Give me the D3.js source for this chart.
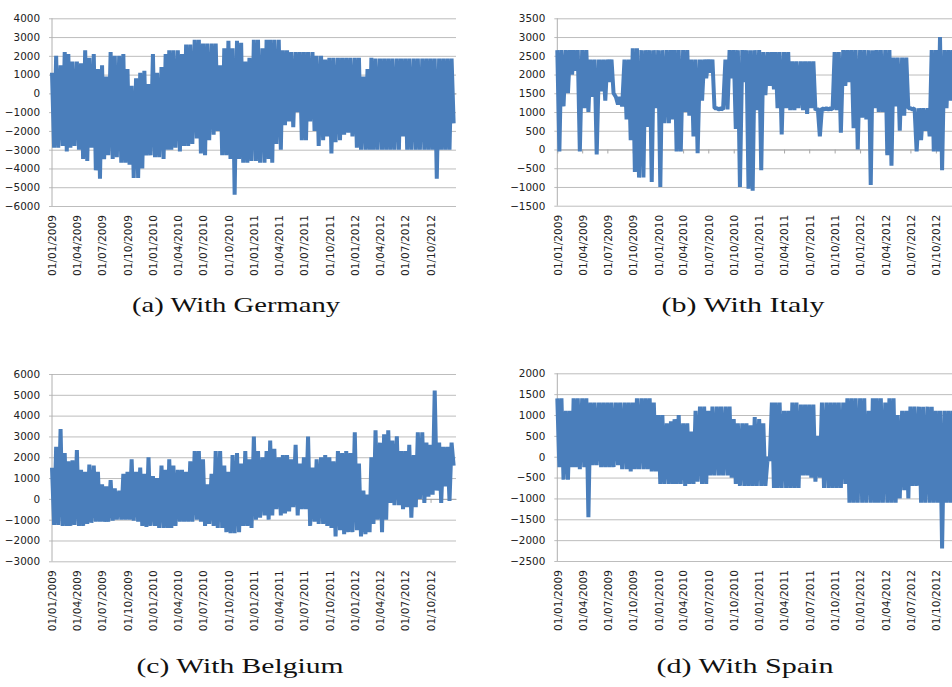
<!DOCTYPE html>
<html>
<head>
<meta charset="utf-8">
<script src="https://cdn.jsdelivr.net/npm/d3@7"></script>
<style>
  html, body { margin: 0; padding: 0; background: #fff; }
  svg { display: block; }
</style>
</head>
<body>
<svg id="chart" width="952" height="687"></svg>
<script>
// ---------------- DATA (half-month envelope readings: highest / lowest value per half month) ----------------
const quarterLabels = ["01/01/2009","01/04/2009","01/07/2009","01/10/2009","01/01/2010","01/04/2010","01/07/2010","01/10/2010",
  "01/01/2011","01/04/2011","01/07/2011","01/10/2011","01/01/2012","01/04/2012","01/07/2012","01/10/2012"];

const germanyHigh = [1100,2000,1500,2200,2100,1700,1700,1600,2300,1900,2100,1300,1500,900,2200,2000,2000,2100,1300,400,
  800,1100,1200,500,2100,1100,1400,2100,2300,2300,2300,2100,2600,2600,2850,2850,2650,2650,2650,2650,
  1500,2400,2800,2400,2800,2700,1700,1900,2850,2850,2400,2850,2850,2850,2850,2300,2300,2200,2200,2200,
  2200,2200,2200,2000,2000,1800,1900,1900,1900,1900,1900,1900,1900,1900,900,1300,1900,1850,1850,1850,
  1850,1850,1850,1850,1850,1850,1850,1850,1850,1850,1850,1850,1850,1850,1850,1850];
const germanyLow = [-2900,-2900,-2800,-3100,-2900,-2800,-3000,-3500,-3600,-2900,-4100,-4550,-3500,-3300,-3500,-3400,-3700,-3700,-3800,-4500,
  -4500,-4000,-3300,-3300,-3400,-3400,-3500,-3000,-3000,-2900,-3100,-2800,-2800,-2700,-2400,-3200,-3300,-2500,-2200,-2000,
  -3300,-3300,-3500,-5400,-3500,-3700,-3700,-3600,-3600,-3700,-3700,-3500,-3700,-2700,-3000,-1700,-1500,-1800,-1000,-2500,
  -2500,-1500,-2000,-2800,-2500,-2300,-3200,-2600,-2500,-2200,-2100,-2300,-2900,-3000,-3000,-3000,-3000,-3000,-3000,-3000,
  -3000,-3000,-3000,-2300,-3000,-3000,-3000,-3000,-3000,-3000,-3000,-4550,-3000,-3000,-3000,-1600];

const italyHigh = [2650,2650,2650,2650,2650,2650,2650,2650,2400,2400,2400,2400,2400,2400,1400,1400,2400,2400,2700,2700,
  2650,2650,2650,2650,2650,2650,2650,2650,2650,2650,2650,2650,2400,2400,2400,2400,2400,2400,1100,1100,
  2400,2650,2650,2650,2650,2650,2650,2650,2650,2600,2600,2600,2600,2600,2600,2600,2350,2350,2350,2350,
  2350,2350,1100,1100,1100,1100,2600,2600,2650,2650,2650,2650,2650,2650,2650,2650,2650,2650,2650,2650,
  2450,2450,2450,2450,1100,1100,1100,1100,1100,2650,2650,3000,2650,2650,2650,2650];
const italyLow = [-50,1150,1500,2000,2100,-50,1100,1000,1400,-130,1550,1300,1800,1500,1200,1150,800,250,-600,-750,
  -750,600,-870,1100,-1000,700,700,800,-50,-50,1000,900,350,-100,1300,1900,2050,1100,1070,1070,
  1070,1900,550,-1000,1800,-1050,-1100,1050,-550,1450,1700,1600,1100,400,1100,1050,1050,1100,1050,950,
  1100,1050,350,1070,1070,1070,1050,450,1700,1800,570,0,850,800,-950,1100,1000,1000,-150,-430,
  1150,500,900,1100,1070,-50,250,500,350,-50,-50,-550,1100,1300,1300,1300];

const belgiumHigh = [1500,2500,3350,2200,1800,1850,2350,1400,1300,1650,1600,1300,700,600,900,500,400,1200,1300,1900,
  1300,1500,1200,2000,1100,1000,1600,1400,1900,1600,1400,1400,1300,1800,2300,2300,1900,700,1200,2300,
  2300,1600,1300,2100,2200,1700,2300,1900,3000,2300,2000,2300,2800,2400,2000,2100,2100,1900,2600,1700,
  2000,3000,1500,1900,2000,2100,2000,1800,2300,2200,2300,2200,3200,1700,400,200,2000,3300,2700,3100,
  3300,2800,3000,2300,2300,2600,2100,3200,3200,2700,2600,5200,2700,2500,2500,2700];
const belgiumLow = [-1250,-1250,-1300,-1300,-1300,-1250,-1300,-1300,-1200,-1150,-1100,-1100,-1100,-1100,-1050,-1000,-1000,-1000,-1000,-1050,
  -1100,-1300,-1350,-1300,-1300,-1400,-1400,-1400,-1400,-1300,-1100,-1100,-1100,-1100,-1000,-1100,-1300,-1200,-1300,-1400,
  -1400,-1600,-1650,-1650,-1600,-1300,-1300,-1400,-1000,-900,-800,-1000,-800,-500,-800,-700,-600,-400,-800,-500,
  -500,-1300,-1100,-1200,-1200,-1300,-1400,-1800,-1500,-1700,-1600,-1600,-1500,-1800,-1700,-1600,-1200,-1000,-1600,-1000,
  -200,-300,-300,-500,-400,-900,-400,0,-200,100,200,400,-200,600,-100,1600];

const spainHigh = [1400,1400,1100,1100,1400,1400,1400,1400,1300,1300,1300,1300,1300,1300,1300,1300,1300,1300,1300,1400,
  1400,1400,1400,1300,1000,1000,800,850,900,1000,800,800,600,1100,1200,1200,1100,1200,1200,1200,
  1200,1200,900,800,800,800,750,950,900,800,0,1300,1300,1300,1100,1100,1300,1300,1250,1250,
  1250,1250,500,1300,1300,1300,1300,1300,1300,1400,1400,1400,1400,1400,1100,1400,1400,1400,1300,1400,
  1400,1000,1100,1100,1200,1200,1200,1200,1200,1200,1100,1100,1100,1100,1100,1100];
const spainLow = [-250,-550,-550,-250,-250,-300,-250,-1450,-200,-200,-250,-250,-250,-250,-200,-300,-300,-350,-300,-300,
  -300,-300,-350,-350,-650,-650,-650,-650,-650,-650,-700,-650,-650,-600,-650,-650,-450,-450,-450,-450,
  -450,-500,-650,-700,-700,-700,-700,-700,-700,-700,-100,-750,-750,-750,-750,-750,-750,-750,-450,-450,
  -500,-600,-500,-750,-750,-750,-750,-750,-650,-1100,-1100,-1100,-1100,-1100,-1100,-1100,-1100,-1100,-1100,-1100,
  -1100,-1000,-800,-1000,-700,-700,-1100,-1100,-1100,-1100,-1100,-2200,-1100,-1100,-1100,-1100];

const captions = ["(a) With Germany", "(b) With Italy", "(c) With Belgium", "(d) With Spain"];
const yDomains = [[-6000, 4000, 1000], [-1500, 3500, 500], [-3000, 6000, 1000], [-2500, 2000, 500]];

// ---------------- LAYOUT ----------------
const panels = [
  { hi: germanyHigh, lo: germanyLow, x0: 52,    x1: 456,   yTop: 18.3, yBot: 206,   capX: 236, capY: 312, capW: 208 },
  { hi: italyHigh,   lo: italyLow,   x0: 557.3, x1: 961.3, yTop: 18.3, yBot: 205.7, capX: 743, capY: 312, capW: 163 },
  { hi: belgiumHigh, lo: belgiumLow, x0: 52,    x1: 456,   yTop: 374,  yBot: 561.3, capX: 240, capY: 673, capW: 207 },
  { hi: spainHigh,   lo: spainLow,   x0: 557.3, x1: 961.3, yTop: 373.3,yBot: 561,   capX: 745, capY: 673, capW: 177 }
];

const parseLabel = d3.timeParse("%d/%m/%Y");
const quarterDates = quarterLabels.map(parseLabel);
const tStart = new Date(2009, 0, 1), tEnd = new Date(2013, 0, 1);
const halfMonthDate = i => new Date(2009, Math.floor(i / 2), i % 2 ? 16 : 1);

const svg = d3.select("#chart");
const gridColor = "#bdbdbd";
const lineColor = "#4a7ebb";

panels.forEach((p, k) => {
  const [ymin, ymax, ystep] = yDomains[k];
  const x = d3.scaleTime().domain([tStart, tEnd]).range([p.x0, p.x1]);
  const y = d3.scaleLinear().domain([ymin, ymax]).range([p.yBot, p.yTop]);
  const g = svg.append("g");
  const w = p.x1 - p.x0;

  // y axis with gridlines
  const yTicks = d3.range(ymin, ymax + ystep / 2, ystep);
  const ya = g.append("g").attr("transform", `translate(${p.x0},0)`)
    .call(d3.axisLeft(y).tickValues(yTicks).tickSizeInner(-w).tickSizeOuter(0).tickPadding(12).tickFormat(d3.format("d")));
  ya.select(".domain").remove();
  ya.selectAll(".tick line").attr("x1", -3).attr("stroke", gridColor).attr("stroke-width", 1);
  ya.selectAll(".tick text").attr("fill", "#222").style("font-family", "'DejaVu Sans', sans-serif").style("font-size", "10.4px");
  g.append("line").attr("x1", p.x0).attr("x2", p.x0).attr("y1", p.yTop).attr("y2", p.yBot)
    .attr("stroke", "#b0b0b0").attr("stroke-width", 1);

  // horizontal category axis crossing at 0 (tick marks)
  const xa = g.append("g").attr("transform", `translate(0,${y(0)})`)
    .call(d3.axisBottom(x).tickValues(quarterDates).tickSizeInner(4).tickSizeOuter(0).tickFormat(""));
  xa.select(".domain").attr("stroke", "#a8a8a8");
  xa.selectAll(".tick line").attr("stroke", "#a8a8a8");

  // series: zigzag between half-month high and low readings
  const pts = [];
  p.hi.forEach((v, i) => {
    const t = halfMonthDate(i);
    pts.push({ t: t, v: v });
    pts.push({ t: d3.timeHour.offset(t, 180), v: p.lo[i] });
  });
  const line = d3.line().x(d => x(d.t)).y(d => y(d.v));
  g.append("path").datum(pts).attr("d", line)
    .attr("fill", "none").attr("stroke", lineColor).attr("stroke-width", 4).attr("stroke-linejoin", "bevel");

  // x labels at bottom, rotated
  const xl = g.append("g").attr("transform", `translate(0,${p.yBot})`)
    .call(d3.axisBottom(x).tickValues(quarterDates).tickSize(0).tickFormat((d, i) => quarterLabels[i]));
  xl.select(".domain").remove();
  xl.selectAll(".tick text")
    .attr("transform", "rotate(-90)")
    .attr("x", -9).attr("y", 0).attr("dy", "0.36em")
    .style("text-anchor", "end")
    .attr("fill", "#222")
    .style("font-family", "'DejaVu Sans', sans-serif").style("font-size", "10.6px");

  // caption
  svg.append("text").attr("x", p.capX).attr("y", p.capY)
    .attr("text-anchor", "middle")
    .attr("textLength", p.capW).attr("lengthAdjust", "spacingAndGlyphs")
    .style("font-family", "'Liberation Serif', serif").style("font-size", "21px").attr("fill", "#111")
    .text(captions[k]);
});
</script>
</body>
</html>
